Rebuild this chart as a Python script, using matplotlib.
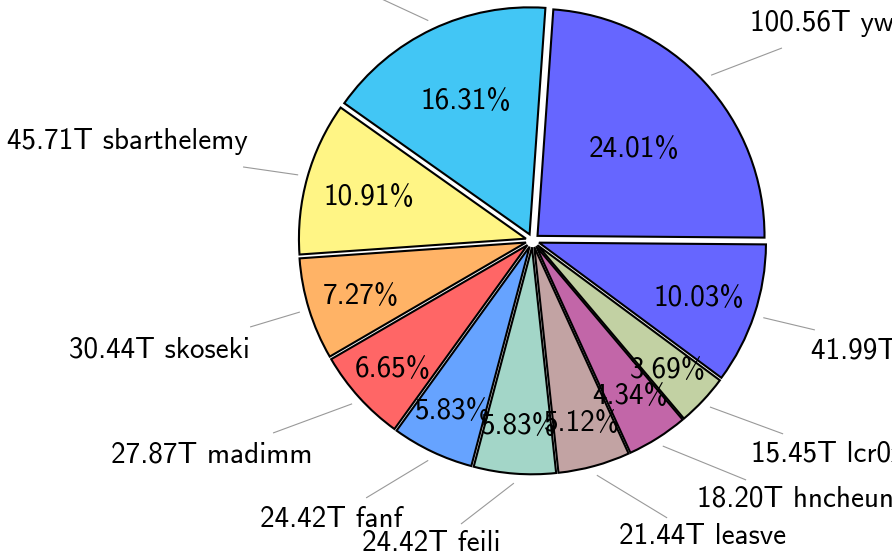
import numpy as np
import matplotlib
matplotlib.use("Agg")
import matplotlib.pyplot as plt

plt.rcParams['font.family'] = ['cmss10', 'DejaVu Sans']

# ---- data ----
names = ["ywang", "jlcheng", "lcr0x", "hncheung", "leasve", "feili", "fanf",
         "madimm", "skoseki", "sbarthelemy", "tmorel"]
sizes_T = [100.56, 41.99, 15.45, 18.20, 21.44, 24.42, 24.42, 27.87, 30.44, 45.71, 68.31]
percents = [24.01, 10.03, 3.69, 4.34, 5.12, 5.83, 5.83, 6.65, 7.27, 10.91, 16.31]
colors = ["#6666FF", "#6666FF", "#C2D1A3", "#C266A8", "#C2A3A3", "#A3D6C8",
          "#66A3FF", "#FF6666", "#FFB366", "#FFF585", "#42C6F5"]

# ---- layout (annotation placement, unit-radius coords) ----
start_angle = 86.0
explode_d = 0.03
pct_radius = [0.58, 0.74, 0.79, 0.77, 0.79, 0.78, 0.79, 0.80, 0.76, 0.72, 0.66]
label_pos = [(0.958, 0.954, 'left'), (1.227, -0.491, 'left'), (0.963, -0.941, 'left'),
             (0.725, -1.143, 'left'), (0.751, -1.306, 'center'), (-0.447, -1.333, 'center'),
             (-0.888, -1.227, 'center'), (-0.971, -0.945, 'right'), (-1.244, -0.482, 'right'),
             (-1.253, 0.434, 'right'), (-1.16, 1.35, 'center')]
line_end = [(1.099, 0.848), (1.244, -0.394), (1.104, -0.852), (0.941, -1.055),
            (0.593, -1.222), (-0.315, -1.249), (-0.733, -1.134), (-1.143, -0.848),
            (-1.244, -0.381), (-1.275, 0.324), (-0.85, 1.15)]

W, H = 892, 557
cx, cy, scale = 532.5, 240.5, 227.0
fs = 21

fig = plt.figure(figsize=(W / 100, H / 100), dpi=100)
ax = fig.add_axes([0, 0, 1, 1])

wedges, _ = ax.pie(sizes_T, colors=colors, startangle=start_angle, counterclock=False,
                   explode=[explode_d] * len(sizes_T), radius=1.0,
                   wedgeprops=dict(edgecolor='black', linewidth=1.5))

ax.set_xlim(-cx / scale, (W - cx) / scale)
ax.set_ylim(-(H - cy) / scale, cy / scale)
ax.set_aspect('auto')
ax.axis('off')

for i, w in enumerate(wedges):
    mid = np.deg2rad((w.theta1 + w.theta2) / 2)
    ux, uy = np.cos(mid), np.sin(mid)
    # percent text
    r = pct_radius[i] + explode_d
    ax.text(r * ux, r * uy, f"{percents[i]:.2f}%", ha='center', va='center_baseline',
            fontsize=fs, color='black')
    # leader line
    rs = 1.072
    ex, ey = line_end[i]
    ax.plot([rs * ux, ex], [rs * uy, ey], color='#999999', lw=0.8, solid_capstyle='butt')
    # outer label
    lx, ly, ha = label_pos[i]
    ax.text(lx, ly, f"{sizes_T[i]:.2f}T {names[i]}", ha=ha, va='center',
            fontsize=fs, color='black')

fig.savefig("out.png", dpi=100)
